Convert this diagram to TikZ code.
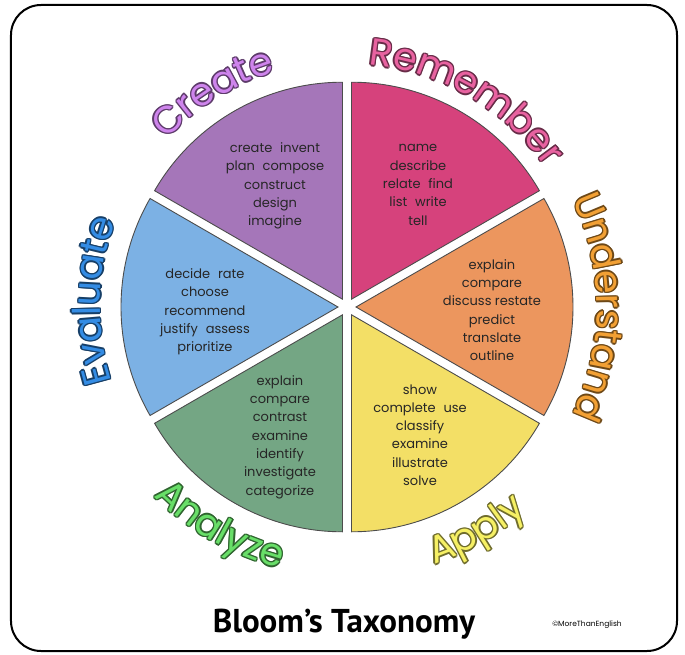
\documentclass[tikz,border=0pt]{standalone}
\usepackage{fontspec}
\usetikzlibrary{decorations.text}
\newfontfamily\wordfont{Poppins}
\newfontfamily\labelfont{Poppins}
\newfontfamily\titlefont{PT Sans}

\definecolor{remfill}{RGB}{214,66,124}
\definecolor{undfill}{RGB}{236,150,94}
\definecolor{appfill}{RGB}{243,223,102}
\definecolor{anafill}{RGB}{116,166,132}
\definecolor{evafill}{RGB}{124,177,228}
\definecolor{crefill}{RGB}{165,118,185}
\definecolor{remtext}{RGB}{232,98,160}
\definecolor{undtext}{RGB}{242,160,52}
\definecolor{apptext}{RGB}{246,240,100}
\definecolor{anatext}{RGB}{104,222,104}
\definecolor{evatext}{RGB}{52,140,228}
\definecolor{cretext}{RGB}{206,132,236}

\tikzset{
  sector/.style={draw=black!70, line width=0.9pt},
  words/.style={font=\wordfont\fontsize{13}{18.3}\selectfont, align=center, text=black!85},
  frame/.style={draw=black, line width=2pt, rounded corners=30pt},
}
\newcommand\wgap{\hspace{0.6em}}
\newcommand\ringlabel[5]{%
  \foreach \ox/\oy in {1.4/0,-1.4/0,0/1.4,0/-1.4,1/1,-1/1,1/-1,-1/-1}
    \path[xshift=\ox pt, yshift=\oy pt, decorate,
      decoration={text along path, text align=center, text color=#4!45!black,
        text={|\labelfont\fontsize{38}{40}\selectfont|#5}}]
      (#1:#3) arc[start angle=#1, end angle=#2, radius=#3];
  \path[decorate,
    decoration={text along path, text align=center, text color=#4,
      text={|\labelfont\fontsize{38}{40}\selectfont|#5}}]
    (#1:#3) arc[start angle=#1, end angle=#2, radius=#3];
}

\begin{document}
\begin{tikzpicture}[x=1pt, y=1pt]
  \useasboundingbox (-347,-347) rectangle (338,307);
  \draw[frame] (-336,-344) rectangle (330,302);

  \foreach \ang/\col in {60/remfill, 0/undfill, -60/appfill, -120/anafill, 180/evafill, 120/crefill}
    \draw[sector, fill=\col, shift={(\ang:9)}] (0,0) -- (\ang-30:217)
      arc[start angle=\ang-30, end angle=\ang+30, radius=217] -- cycle;

  \node[words] (create) at (-72,121) {create\wgap invent\\plan\wgap compose\\construct\\design\\imagine};
  \node[words] (remember) at (71,122) {name\\describe\\relate\wgap find\\list\wgap write\\tell};
  \node[words] (understand) at (145,-3) {explain\\compare\\discuss restate\\predict\\translate\\outline};
  \node[words] (apply) at (73,-128) {show\\complete\wgap use\\classify\\examine\\illustrate\\solve};
  \node[words] (analyze) at (-67,-130) {explain\\compare\\contrast\\examine\\identify\\investigate\\categorize};
  \node[words] (evaluate) at (-142,-5) {decide\wgap rate\\choose\\recommend\\justify\wgap assess\\prioritize};

  \ringlabel{110}{10}{243}{remtext}{Remember}
  \ringlabel{172}{72}{246}{cretext}{Create}
  \ringlabel{50}{-50}{250}{undtext}{Understand}
  \ringlabel{228.5}{128.5}{247}{evatext}{Evaluate}
  \ringlabel{-110}{-10}{272}{apptext}{Apply}
  \ringlabel{-170}{-70}{270}{anatext}{Analyze}

  \node[font=\titlefont\bfseries\fontsize{33}{36}\selectfont, anchor=base] (title) at (-3,-325) {Bloom’s Taxonomy};
  \node[font=\wordfont\fontsize{7.5}{9}\selectfont, anchor=base] (credit) at (240,-319) {©MoreThanEnglish};
\end{tikzpicture}
\end{document}
